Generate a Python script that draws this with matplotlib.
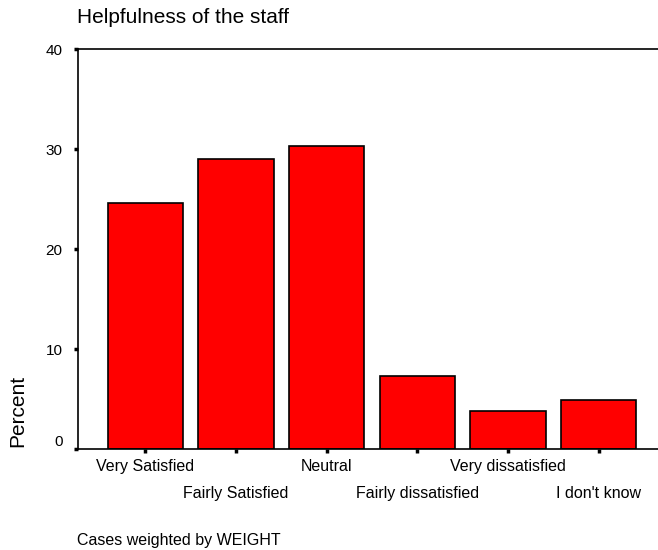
import matplotlib
matplotlib.use("Agg")
import matplotlib.pyplot as plt
import matplotlib.transforms as mtransforms

plt.rcParams['font.family'] = ['Liberation Sans', 'DejaVu Sans']

categories = ["Very Satisfied", "Fairly Satisfied", "Neutral",
              "Fairly dissatisfied", "Very dissatisfied", "I don't know"]
percent = [24.6, 29.05, 30.3, 7.35, 3.85, 4.95]
yticks = [0, 10, 20, 30, 40]

fig = plt.figure(figsize=(6.58, 5.5), dpi=100)
ax = fig.add_axes([0.1185, 0.1831, 0.8815, 0.7273])

x = list(range(len(categories)))
ax.bar(x, percent, width=0.83, color="#ff0000", edgecolor="black", linewidth=1.2)

ax.set_xlim(-0.742, 5.653)
ax.set_ylim(0, 40)
ax.set_yticks(yticks)
ax.set_yticklabels([str(t) for t in yticks], fontsize=11)
ax.set_xticks(x)
ax.set_xticklabels(categories, fontsize=11.5)

ax.spines['right'].set_visible(False)
for s in ['left', 'top', 'bottom']:
    ax.spines[s].set_linewidth(1.2)
ax.tick_params(axis='y', direction='out', length=3, width=2.5, pad=8)
ax.tick_params(axis='x', direction='out', length=3, width=2.5, pad=4)

# stagger the category labels on two rows
shift = mtransforms.ScaledTranslation(0, -0.27, fig.dpi_scale_trans)
for i, lab in enumerate(ax.get_xticklabels()):
    if i % 2 == 1:
        lab.set_transform(lab.get_transform() + shift)

# the zero label sits a little above its tick
up = mtransforms.ScaledTranslation(0, 0.09, fig.dpi_scale_trans)
zero = ax.get_yticklabels()[0]
zero.set_transform(zero.get_transform() + up)

fig.text(77 / 658, 1 - 17.5 / 550, "Helpfulness of the staff", fontsize=15,
         ha='left', va='center')
fig.text(18 / 658, 1 - 411 / 550, "Percent", fontsize=15, rotation=90,
         ha='center', va='center')
fig.text(77 / 658, 1 - 540 / 550, "Cases weighted by WEIGHT", fontsize=11.5,
         ha='left', va='center')

fig.savefig("out.png", dpi=100)
